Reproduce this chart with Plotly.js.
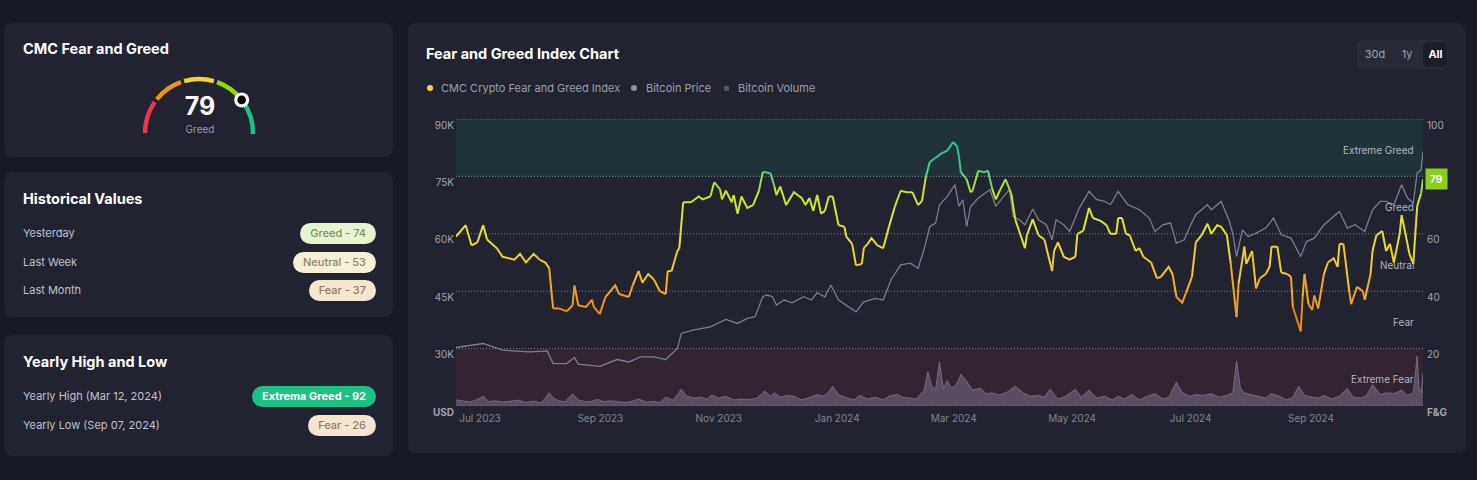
<!DOCTYPE html>
<html><head><meta charset="utf-8">
<script src="https://cdn.plot.ly/plotly-3.0.1.min.js"></script>
<style>
html,body{margin:0;padding:0;background:#171a25;width:1477px;height:480px;overflow:hidden;font-family:Inter,"Noto Sans",sans-serif;}
.card{position:absolute;background:#222330;border-radius:8px;}
.t{position:absolute;white-space:nowrap;line-height:16px;}
.h{font-weight:700;color:#ffffff;font-size:14.5px;line-height:18px;}
.row{font-size:11px;color:#c0c2cc;}
.leg{font-size:11px;color:#9c9faa;}
.pill{position:absolute;height:21px;line-height:21px;border-radius:11px;font-size:11px;font-weight:500;padding:0 10px;white-space:nowrap;}
.dot{position:absolute;}
#chart{position:absolute;left:408px;top:23px;width:1058px;height:430px;}
</style></head>
<body>
<div class="card" style="left:4px;top:23px;width:389px;height:134px"></div>
<div class="card" style="left:4px;top:172px;width:389px;height:145px"></div>
<div class="card" style="left:4px;top:335px;width:389px;height:121px"></div>
<div class="card" style="left:408px;top:23px;width:1058px;height:430px"></div>
<svg id="gauge" style="position:absolute;left:0;top:0" width="400" height="160"></svg>
<div id="chart"></div>
<div id="ui"></div>
<script>
// ---------- data ----------
const fgDates = ['2023-06-30','2023-07-05','2023-07-08','2023-07-11','2023-07-14','2023-07-16','2023-07-21','2023-07-24','2023-07-30','2023-08-02','2023-08-05','2023-08-09','2023-08-12','2023-08-15','2023-08-17','2023-08-19','2023-08-22','2023-08-26','2023-08-29','2023-08-30','2023-09-01','2023-09-05','2023-09-08','2023-09-09','2023-09-12','2023-09-15','2023-09-20','2023-09-22','2023-09-27','2023-09-29','2023-10-02','2023-10-04','2023-10-07','2023-10-10','2023-10-13','2023-10-16','2023-10-17','2023-10-19','2023-10-22','2023-10-23','2023-10-25','2023-10-29','2023-11-02','2023-11-04','2023-11-08','2023-11-10','2023-11-13','2023-11-14','2023-11-16','2023-11-19','2023-11-20','2023-11-22','2023-11-24','2023-11-27','2023-11-30','2023-12-03','2023-12-05','2023-12-06','2023-12-09','2023-12-11','2023-12-12','2023-12-14','2023-12-17','2023-12-21','2023-12-25','2023-12-27','2023-12-29','2023-12-31','2024-01-02','2024-01-04','2024-01-06','2024-01-08','2024-01-10','2024-01-13','2024-01-16','2024-01-17','2024-01-20','2024-01-22','2024-01-25','2024-01-26','2024-01-28','2024-01-30','2024-02-02','2024-02-05','2024-02-08','2024-02-11','2024-02-14','2024-02-17','2024-02-20','2024-02-23','2024-02-25','2024-02-27','2024-02-29','2024-03-03','2024-03-06','2024-03-09','2024-03-12','2024-03-14','2024-03-15','2024-03-16','2024-03-19','2024-03-21','2024-03-22','2024-03-25','2024-03-28','2024-03-30','2024-04-01','2024-04-03','2024-04-05','2024-04-08','2024-04-11','2024-04-13','2024-04-15','2024-04-18','2024-04-19','2024-04-22','2024-04-25','2024-04-28','2024-05-02','2024-05-03','2024-05-05','2024-05-08','2024-05-11','2024-05-14','2024-05-15','2024-05-18','2024-05-21','2024-05-23','2024-05-27','2024-05-30','2024-06-01','2024-06-04','2024-06-05','2024-06-07','2024-06-09','2024-06-11','2024-06-14','2024-06-16','2024-06-18','2024-06-22','2024-06-25','2024-06-27','2024-07-01','2024-07-03','2024-07-05','2024-07-08','2024-07-10','2024-07-13','2024-07-15','2024-07-18','2024-07-21','2024-07-23','2024-07-26','2024-07-28','2024-07-31','2024-08-02','2024-08-05','2024-08-06','2024-08-09','2024-08-10','2024-08-13','2024-08-15','2024-08-17','2024-08-20','2024-08-22','2024-08-23','2024-08-26','2024-08-28','2024-08-31','2024-09-02','2024-09-03','2024-09-07','2024-09-08','2024-09-09','2024-09-11','2024-09-13','2024-09-14','2024-09-16','2024-09-19','2024-09-21','2024-09-24','2024-09-26','2024-09-27','2024-09-29','2024-10-02','2024-10-03','2024-10-06','2024-10-09','2024-10-10','2024-10-13','2024-10-14','2024-10-16','2024-10-19','2024-10-21','2024-10-23','2024-10-25','2024-10-28','2024-10-29','2024-11-01','2024-11-02','2024-11-04','2024-11-06','2024-11-07','2024-11-08','2024-11-09'];
const fgValues = [59,63,56,57,63,58,55,52,51,53,50,53,51,50,48,34,34,33,35,42,35,34.5,37,34.5,32,38,42,39,38,42,47,43,46,44,40,39,47,47,54,55,71,71,73,72,73,78,75.5,72,75,71,73.5,67,73,69,70,75,81.5,81.5,81,76.5,73.5,76.5,70,74.5,72.5,70,72.5,68,73.5,67,68,73,73,63,62.5,59,56.5,49,49.5,55,56.5,58.5,56,55,62.5,69.5,75,74.5,74.5,70,71.5,80,85,86.5,88,89,92,90.5,87,81.5,79,74.5,75,82,81.5,82,76,72,75,79,74,65,61,55,59.5,65,59.5,58,47,54,57,52,51,52,60,61,69,65.5,64.5,63,60,60,65.5,65.5,60,59.5,54,55,52,50,44.5,45,48.5,46,38,36,39.5,45,57,59.5,63.5,60,63,62.5,59.5,49.5,31,42.5,55.5,49.5,54,41,44.5,46,48.5,55.5,55.5,46.5,46,45,34.5,26,38,46,35.5,33.5,38.5,34,46,50,51.5,48.5,56.5,56.5,40,35.5,41.5,40,37,46,54,59.5,61,54,56.5,50,60,66.5,56.5,53,49.5,69.5,72,74,79];

const priceDates = ['2023-06-30','2023-07-14','2023-07-24','2023-08-07','2023-08-16','2023-08-19','2023-08-26','2023-08-30','2023-09-01','2023-09-12','2023-09-21','2023-09-27','2023-10-03','2023-10-10','2023-10-16','2023-10-22','2023-10-24','2023-10-30','2023-11-08','2023-11-16','2023-11-22','2023-11-27','2023-12-01','2023-12-05','2023-12-07','2023-12-10','2023-12-12','2023-12-16','2023-12-20','2023-12-26','2023-12-30','2024-01-02','2024-01-06','2024-01-09','2024-01-13','2024-01-18','2024-01-22','2024-01-26','2024-02-01','2024-02-05','2024-02-09','2024-02-14','2024-02-19','2024-02-23','2024-02-26','2024-02-29','2024-03-03','2024-03-05','2024-03-09','2024-03-13','2024-03-15','2024-03-17','2024-03-19','2024-03-21','2024-03-25','2024-03-31','2024-04-03','2024-04-07','2024-04-10','2024-04-12','2024-04-15','2024-04-18','2024-04-22','2024-04-25','2024-04-29','2024-05-02','2024-05-04','2024-05-08','2024-05-11','2024-05-16','2024-05-21','2024-05-25','2024-05-29','2024-06-01','2024-06-05','2024-06-10','2024-06-16','2024-06-21','2024-06-24','2024-06-28','2024-07-02','2024-07-05','2024-07-09','2024-07-12','2024-07-15','2024-07-21','2024-07-23','2024-07-28','2024-08-01','2024-08-03','2024-08-05','2024-08-08','2024-08-11','2024-08-15','2024-08-20','2024-08-24','2024-08-28','2024-09-02','2024-09-07','2024-09-10','2024-09-14','2024-09-19','2024-09-24','2024-09-27','2024-10-01','2024-10-05','2024-10-10','2024-10-14','2024-10-18','2024-10-21','2024-10-25','2024-10-29','2024-11-01','2024-11-04','2024-11-06','2024-11-07','2024-11-08','2024-11-09'];
const priceValues = [30290,31330,29580,29130,29400,26090,26090,27660,25910,25380,27140,26510,27820,27820,27140,30020,33960,34820,35690,37630,36580,37890,38310,43550,44000,43550,41380,42690,41980,43550,42690,44600,43550,46620,42690,40930,39620,42240,43130,42690,47930,51870,52310,51000,55800,61910,62800,67600,69780,72840,67150,68910,61910,67150,69350,71530,67150,69780,71530,64530,63670,62360,66470,63670,62360,58420,63670,62360,60600,66730,71080,68910,68500,67600,71080,67600,66290,64110,60600,62360,62800,57560,58420,61910,64980,67600,66290,68460,63670,60180,54040,61040,59290,60180,61490,64110,59730,58870,54040,57970,58870,62360,64530,65840,61490,62360,60600,66290,68460,68460,67600,72840,69350,68040,75910,76400,76700,81500];

const volDates = ['2023-06-30','2023-07-03','2023-07-07','2023-07-10','2023-07-14','2023-07-17','2023-07-20','2023-07-24','2023-07-28','2023-08-01','2023-08-05','2023-08-09','2023-08-13','2023-08-17','2023-08-19','2023-08-22','2023-08-25','2023-08-29','2023-09-01','2023-09-05','2023-09-08','2023-09-11','2023-09-14','2023-09-18','2023-09-22','2023-09-26','2023-09-29','2023-10-02','2023-10-06','2023-10-10','2023-10-13','2023-10-16','2023-10-20','2023-10-24','2023-10-27','2023-10-31','2023-11-03','2023-11-06','2023-11-09','2023-11-12','2023-11-16','2023-11-20','2023-11-24','2023-11-28','2023-12-02','2023-12-06','2023-12-09','2023-12-11','2023-12-14','2023-12-18','2023-12-21','2023-12-25','2023-12-29','2024-01-02','2024-01-05','2024-01-08','2024-01-10','2024-01-13','2024-01-17','2024-01-21','2024-01-24','2024-01-28','2024-02-01','2024-02-05','2024-02-08','2024-02-12','2024-02-15','2024-02-19','2024-02-22','2024-02-26','2024-02-28','2024-03-01','2024-03-03','2024-03-05','2024-03-07','2024-03-09','2024-03-11','2024-03-13','2024-03-15','2024-03-16','2024-03-19','2024-03-22','2024-03-26','2024-03-29','2024-04-01','2024-04-05','2024-04-09','2024-04-13','2024-04-17','2024-04-21','2024-04-25','2024-04-28','2024-05-01','2024-05-05','2024-05-09','2024-05-14','2024-05-17','2024-05-21','2024-05-25','2024-05-29','2024-06-02','2024-06-05','2024-06-08','2024-06-12','2024-06-16','2024-06-19','2024-06-24','2024-06-28','2024-07-01','2024-07-05','2024-07-08','2024-07-12','2024-07-15','2024-07-19','2024-07-23','2024-07-27','2024-07-31','2024-08-03','2024-08-05','2024-08-07','2024-08-09','2024-08-12','2024-08-16','2024-08-20','2024-08-23','2024-08-27','2024-08-31','2024-09-03','2024-09-06','2024-09-09','2024-09-13','2024-09-16','2024-09-19','2024-09-23','2024-09-27','2024-10-01','2024-10-04','2024-10-08','2024-10-11','2024-10-14','2024-10-18','2024-10-21','2024-10-25','2024-10-29','2024-11-01','2024-11-04','2024-11-06','2024-11-07','2024-11-08','2024-11-09'];
const volValues = [14,12,9,13,22,10,12,9,11,13,8,11,7,30,18,12,9,27,14,9,11,15,10,12,9,8,11,16,9,10,8,20,13,38,22,18,20,16,25,18,22,14,16,15,18,34,22,30,20,24,22,14,19,26,22,32,45,26,19,14,24,16,20,14,22,26,20,18,16,35,77,45,38,100,40,58,42,45,60,72,56,36,40,28,30,25,32,45,30,22,24,20,38,16,22,38,20,36,18,22,14,22,16,26,14,20,28,16,20,54,30,22,26,24,28,20,24,30,102,40,30,26,22,18,28,22,14,20,45,24,20,18,24,16,22,40,20,18,24,48,26,30,28,36,24,30,113,40,30,75];

const seriesNames = ['CMC Crypto Fear and Greed Index','Bitcoin Price','Bitcoin Volume'];
const priceTickVals = [15000,30000,45000,60000,75000,90000];
const priceTickText = ['USD','30K','45K','60K','75K','90K'];
const fgTickVals = [0,20,40,60,80,100];
const fgTickText = ['F&amp;G','20','40','60','80','100'];
const zoneNames = ['Extreme Greed','Greed','Neutral','Fear','Extreme Fear'];
const zoneLow = [80,60,40,20,0];
const zoneHigh = [100,80,60,40,20];
const xTickLabels = ['Jul 2023','Sep 2023','Nov 2023','Jan 2024','Mar 2024','May 2024','Jul 2024','Sep 2024'];
const rangeButtons = ['30d','1y','All'];
const currentValue = 79;
const currentLabel = 'Greed';
const histLabels = ['Yesterday','Last Week','Last Month'];
const histClass = ['Greed','Neutral','Fear'];
const histValues = [74,53,37];
const yearLabels = ['Yearly High (Mar 12, 2024)','Yearly Low (Sep 07, 2024)'];
const yearClass = ['Extrema Greed','Fear'];
const yearValues = [92,26];

// ---------- colour scale for the index line ----------
const stops = [[0,[234,57,67]],[26,[226,112,30]],[36,[240,150,26]],[45,[244,188,44]],[55,[238,216,44]],[65,[218,232,46]],[76,[192,228,48]],[80,[110,210,120]],[85,[50,200,150]],[100,[30,195,135]]];
function fgColor(v){
  for(let i=0;i<stops.length-1;i++){
    const a=stops[i],b=stops[i+1];
    if(v<=b[0]){const t=Math.max(0,(v-a[0])/(b[0]-a[0]));
      const c=a[1].map((q,k)=>Math.round(q+(b[1][k]-q)*t));return 'rgb('+c.join(',')+')';}
  }
  return 'rgb('+stops[stops.length-1][1].join(',')+')';
}

// ---------- traces ----------
const traces = [];
traces.push({type:'scatter',mode:'lines',name:seriesNames[2],x:volDates,y:volValues,yaxis:'y',
  fill:'tozeroy',fillcolor:'rgba(130,118,145,0.5)',line:{color:'rgba(140,128,155,0.85)',width:0.8},hoverinfo:'skip'});
traces.push({type:'scatter',mode:'lines',name:seriesNames[1],x:priceDates,y:priceValues,yaxis:'y2',
  line:{color:'#7b7e8e',width:1.3},hoverinfo:'skip'});
let cur=null;
for(let i=0;i<fgValues.length-1;i++){
  const bin=Math.round(((fgValues[i]+fgValues[i+1])/2)/2.5);
  if(!cur||cur.bin!==bin){cur={bin:bin,x:[fgDates[i]],y:[fgValues[i]]};traces.push(cur);}
  cur.x.push(fgDates[i+1]);cur.y.push(fgValues[i+1]);
}
for(const t of traces){ if(t.bin!==undefined){
  t.type='scatter';t.mode='lines';t.yaxis='y3';t.name=seriesNames[0];
  t.line={color:fgColor(t.bin*2.5),width:2};t.hoverinfo='skip';delete t.bin;}}

const annotations = zoneNames.map((n,i)=>({xref:'paper',x:1,xanchor:'right',xshift:-7,yref:'y3',y:(zoneLow[i]+zoneHigh[i])/2,yshift:-2,
  text:n,showarrow:false,font:{size:10,color:'#b2b5c0'}}));
annotations.push({xref:'paper',x:1,xanchor:'left',xshift:2,yref:'y3',y:currentValue,text:'<b>'+currentValue+'</b>',
  showarrow:false,bgcolor:'#8ccf1a',borderpad:4,font:{size:10,color:'#ffffff'}});

const shapes = [
  {type:'rect',xref:'paper',x0:0,x1:1,yref:'y3',y0:zoneLow[0],y1:zoneHigh[0],fillcolor:'rgba(22,199,132,0.10)',line:{width:0},layer:'below'},
  {type:'rect',xref:'paper',x0:0,x1:1,yref:'y3',y0:zoneLow[4],y1:zoneHigh[4],fillcolor:'rgba(234,57,67,0.09)',line:{width:0},layer:'below'}
];
fgTickVals.forEach(v=>shapes.push({type:'line',xref:'paper',x0:0,x1:1,yref:'y3',y0:v,y1:v,
  line:{color:'rgba(255,255,255,0.42)',width:1,dash:'1px,2px'},layer:'below'}));

// the current-value badge sits on top of the nearest right-axis label, as in the source
const fgTickShown = fgTickText.map((s,i)=>Math.abs(fgTickVals[i]-currentValue)<5?'':(i===0?'<b>'+s+'</b>':s));

const layout = {
  width:1058,height:430,margin:{l:48,r:43,t:96,b:47},
  paper_bgcolor:'rgba(0,0,0,0)',plot_bgcolor:'rgba(0,0,0,0)',
  showlegend:false,hovermode:false,
  font:{family:'Inter, Noto Sans, sans-serif',size:10,color:'#8e909c'},
  xaxis:{type:'date',range:['2023-06-30','2024-11-09'],tickmode:'array',
    tickvals:xTickLabels.map(s=>{const d=new Date(s+' 1 UTC');return d.toISOString().slice(0,10);}),
    ticktext:xTickLabels,showgrid:false,zeroline:false,showline:false,ticks:'',
    ticklabelshift:22,ticklabelstandoff:5,tickfont:{size:10,color:'#80838f'}},
  yaxis:{range:[0,650],visible:false,fixedrange:true},
  yaxis2:{overlaying:'y',side:'left',range:[15000,90000],tickmode:'array',tickvals:priceTickVals,
    ticktext:priceTickText.map((s,i)=>i===0?'<b>'+s+'</b>':s),showgrid:false,zeroline:false,showline:false,ticks:'',
    ticklabelshift:6,ticklabelstandoff:1,tickfont:{size:10,color:'#a0a3ae'}},
  yaxis3:{overlaying:'y',side:'right',range:[0,100],tickmode:'array',tickvals:fgTickVals,
    ticktext:fgTickShown,showgrid:false,zeroline:false,showline:false,ticks:'',
    ticklabelshift:6,ticklabelstandoff:3,tickfont:{size:10,color:'#a0a3ae'}},
  shapes:shapes,
  annotations:annotations
};
Plotly.newPlot('chart',traces,layout,{displayModeBar:false,staticPlot:true});

// ---------- page furniture ----------
const ui=document.getElementById('ui');
function add(html){ui.insertAdjacentHTML('beforeend',html);}
add('<div class="t h" style="left:23px;top:40px">CMC Fear and Greed</div>');
add('<div class="t h" style="left:23px;top:190px">Historical Values</div>');
add('<div class="t h" style="left:23px;top:353px">Yearly High and Low</div>');
add('<div class="t h" style="left:426px;top:45px">Fear and Greed Index Chart</div>');
add('<div class="t" style="left:150px;width:100px;text-align:center;top:92px;font-size:25px;line-height:28px;font-weight:700;color:#fff">'+currentValue+'</div>');
add('<div class="t" style="left:150px;width:100px;text-align:center;top:122px;font-size:10px;line-height:14px;color:#9a9dab">'+currentLabel+'</div>');

const pillStyle={'Greed':'background:#e6f4d2;color:#7c925f','Neutral':'background:#f5f0d6;color:#8d8366','Fear':'background:#f4e6cf;color:#8e7b67','Extrema Greed':'background:#1cc283;color:#ffffff;font-weight:700'};
const histY=[233,262,290];
histLabels.forEach((l,i)=>{
  add('<div class="t row" style="left:23px;top:'+(histY[i]-8)+'px">'+l+'</div>');
  add('<div class="pill" style="right:'+(1477-376)+'px;top:'+(histY[i]-10.5)+'px;'+pillStyle[histClass[i]]+'">'+histClass[i]+' - '+histValues[i]+'</div>');
});
const yearY=[396,425];
yearLabels.forEach((l,i)=>{
  add('<div class="t row" style="left:23px;top:'+(yearY[i]-8)+'px">'+l+'</div>');
  add('<div class="pill" style="right:'+(1477-376)+'px;top:'+(yearY[i]-10.5)+'px;'+pillStyle[yearClass[i]]+'">'+yearClass[i]+' - '+yearValues[i]+'</div>');
});
// legend
const legDot=[{x:427,c:'#f3d42f',r:'50%',s:6},{x:631,c:'#8d909b',r:'50%',s:6},{x:724,c:'#555867',r:'1px',s:5}];
const legX=[441,646,738];
seriesNames.forEach((n,i)=>{
  const d=legDot[i];
  add('<div class="dot" style="left:'+d.x+'px;top:'+(88-d.s/2)+'px;width:'+d.s+'px;height:'+d.s+'px;border-radius:'+d.r+';background:'+d.c+'"></div>');
  add('<div class="t leg" style="left:'+legX[i]+'px;top:80px">'+n+'</div>');
});
// range buttons
add('<div style="position:absolute;left:1357px;top:40px;width:91px;height:29px;border-radius:6px;background:#282a38"></div>');
add('<div style="position:absolute;left:1423px;top:42px;width:24px;height:25px;border-radius:5px;background:#1b1d28"></div>');
const btnX=[1375,1407,1435.5];
rangeButtons.forEach((b,i)=>{
  const last=i===rangeButtons.length-1;
  add('<div class="t" style="left:'+(btnX[i]-20)+'px;width:40px;text-align:center;top:46px;font-size:11px;'+(last?'font-weight:700;color:#fff':'color:#a0a2ae')+'">'+b+'</div>');
});

// ---------- gauge ----------
(function(){
  const svg=document.getElementById('gauge');
  const cx=199,cy=133,r=54;
  const segs=[[180,145,'#ea3943'],[141.5,109.5,'#ec9418'],[106,74,'#f3d42f'],[70.5,38.5,'#93d900'],[35,-1,'#16c784']];
  const pt=a=>[cx+r*Math.cos(a*Math.PI/180),cy-r*Math.sin(a*Math.PI/180)];
  let h='';
  segs.forEach(s=>{const p0=pt(s[0]),p1=pt(s[1]);
    h+='<path d="M'+p0[0].toFixed(2)+' '+p0[1].toFixed(2)+' A'+r+' '+r+' 0 0 1 '+p1[0].toFixed(2)+' '+p1[1].toFixed(2)+'" fill="none" stroke="'+s[2]+'" stroke-width="4.5"/>';});
  const k=pt(180-currentValue*1.8);
  h+='<circle cx="'+k[0].toFixed(2)+'" cy="'+k[1].toFixed(2)+'" r="7.5" fill="#ffffff"/>';
  h+='<circle cx="'+k[0].toFixed(2)+'" cy="'+k[1].toFixed(2)+'" r="4.3" fill="#000000"/>';
  svg.innerHTML=h;
})();
</script>
</body></html>
